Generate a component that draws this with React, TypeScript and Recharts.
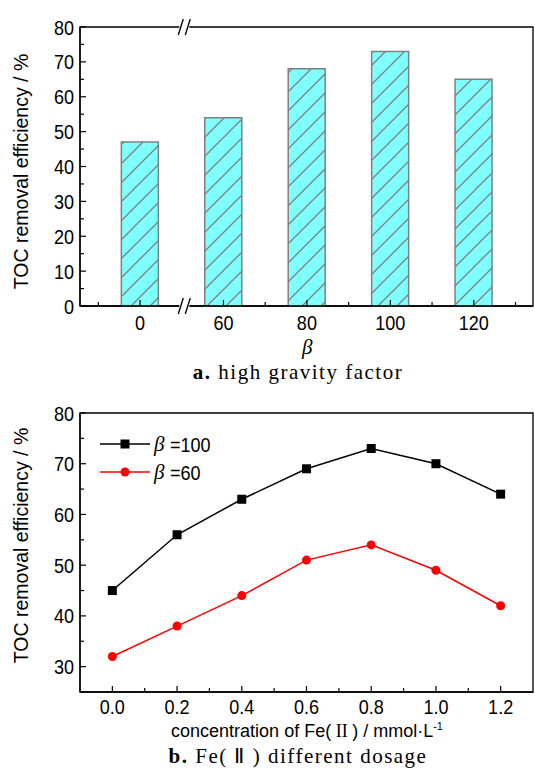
import React from "react";
import {
  BarChart,
  Bar,
  LineChart,
  Line,
  XAxis,
  YAxis,
  ReferenceArea,
  ReferenceDot,
  Legend,
} from "recharts";

// panel a: high gravity factor
const gravityLabels = ["0", "60", "80", "100", "120"];
const gravityRemoval = [47, 54, 68, 73, 65];

// panel b: Fe(II) dosage
const doseLevels = [0, 0.2, 0.4, 0.6, 0.8, 1.0, 1.2];
const removalBeta100 = [45, 56, 63, 69, 73, 70, 64];
const removalBeta60 = [32, 38, 44, 51, 54, 49, 42];

const barYTicks = [0, 5, 10, 15, 20, 25, 30, 35, 40, 45, 50, 55, 60, 65, 70, 75, 80];
const barXTicks = [-0.5, 0, 1, 1.5, 2, 2.5, 3, 3.5, 4, 4.5];
const lineYTicks = [25, 30, 35, 40, 45, 50, 55, 60, 65, 70, 75, 80];
const lineXTicks = [0, 0.1, 0.2, 0.3, 0.4, 0.5, 0.6, 0.7, 0.8, 0.9, 1.0, 1.1, 1.2];

const barData = gravityLabels.map((label, i) => ({ idx: i, label, value: gravityRemoval[i] }));
const lineData = doseLevels.map((d, i) => ({ dose: d, b100: removalBeta100[i], b60: removalBeta60[i] }));

const sansFont = "'Liberation Sans', Arial, sans-serif";
const serifFont = "'Liberation Serif', 'Times New Roman', serif";
const squeeze = 0.86;

const NarrowText = ({ x, y, anchor, size = 21, children }: any) => (
  <text
    transform={`translate(${x},${y}) scale(${squeeze},1)`}
    textAnchor={anchor}
    fontSize={size}
    fontFamily={sansFont}
    fill="#000"
  >
    {children}
  </text>
);

const BarXTick = (props: any) => {
  const { x, y, payload } = props;
  const v = payload.value;
  const major = Number.isInteger(v);
  return (
    <g>
      <line x1={x} x2={x} y1={y} y2={y - (major ? 6 : 4)} stroke="#000" strokeWidth={1.2} />
      {major && <NarrowText x={x} y={y + 24} anchor="middle">{gravityLabels[v]}</NarrowText>}
    </g>
  );
};

const LineXTick = (props: any) => {
  const { x, y, payload } = props;
  const v = payload.value;
  const major = Math.round(v * 10) % 2 === 0;
  return (
    <g>
      <line x1={x} x2={x} y1={y} y2={y - (major ? 6 : 4)} stroke="#000" strokeWidth={1.2} />
      {major && <NarrowText x={x} y={y + 22} anchor="middle">{v.toFixed(1)}</NarrowText>}
    </g>
  );
};

const YTick = (props: any) => {
  const { x, y, payload } = props;
  const v = payload.value;
  const major = v % 10 === 0;
  return (
    <g>
      <line x1={x} x2={x + (major ? 6 : 4)} y1={y} y2={y} stroke="#000" strokeWidth={1.2} />
      {major && <NarrowText x={x - 6} y={y + 7.5} anchor="end">{v}</NarrowText>}
    </g>
  );
};

const BreakMark = (props: any) => {
  const { cx, cy } = props;
  if (cx == null || cy == null) return <g />;
  return (
    <g>
      <rect x={cx - 5} y={cy - 3} width={10} height={6} fill="#fff" />
      <line x1={cx - 6} y1={cy + 8} x2={cx - 1} y2={cy - 8} stroke="#000" strokeWidth={1.3} />
      <line x1={cx + 1} y1={cy + 8} x2={cx + 6} y2={cy - 8} stroke="#000" strokeWidth={1.3} />
    </g>
  );
};

const SquareDot = (props: any) => {
  const { cx, cy, index } = props;
  return <rect key={`sq-${index}`} x={cx - 4.5} y={cy - 4.5} width={9} height={9} fill="#000" />;
};

const LegendBox = (props: any) => {
  const { payload } = props;
  return (
    <svg width={160} height={60}>
      {(payload || []).map((entry: any, i: number) => {
        const y = 14 + i * 28;
        const square = entry.dataKey === "b100";
        return (
          <g key={entry.value}>
            <line x1={0} x2={50} y1={y} y2={y} stroke={entry.color} strokeWidth={1.5} />
            {square ? (
              <rect x={20.5} y={y - 4.5} width={9} height={9} fill={entry.color} />
            ) : (
              <circle cx={25} cy={y} r={4.5} fill={entry.color} />
            )}
            <text x={54} y={y + 7} fontSize={21} fontFamily={serifFont} fontStyle="italic" fill="#000">
              β
            </text>
            <NarrowText x={70} y={y + 7.5} anchor="start" size={21}>
              {"=" + entry.value.replace("β=", "")}
            </NarrowText>
          </g>
        );
      })}
    </svg>
  );
};

const YLabel = ({ top }: { top: number }) => (
  <div
    style={{
      position: "absolute",
      left: 0,
      top,
      width: 44,
      height: 280,
      display: "flex",
      alignItems: "center",
      justifyContent: "center",
    }}
  >
    <div style={{ transform: "rotate(-90deg)", whiteSpace: "nowrap", fontFamily: sansFont, fontSize: 19.5 }}>
      TOC removal efficiency / %
    </div>
  </div>
);

const App = () => {
  return (
    <div style={{ position: "absolute", left: 0, top: 0, width: 535, height: 770, background: "#fff" }}>
      {/* panel a */}
      <div style={{ position: "absolute", left: 0, top: 0 }}>
        <BarChart width={535} height={340} data={barData} margin={{ top: 27, right: 2, bottom: 0, left: 0 }}>
          <defs>
            <pattern id="hatch" width={19} height={19} patternUnits="userSpaceOnUse">
              <rect width={19} height={19} fill="#80FFFF" />
              <path d="M0,19 L19,0 M-2,2 L2,-2 M17,21 L21,17" stroke="#808080" strokeWidth={1.3} />
            </pattern>
          </defs>
          <ReferenceArea x1={-0.72} x2={4.71} y1={0} y2={80} fill="none" stroke="#000" strokeWidth={1.3} ifOverflow="visible" />
          <XAxis
            dataKey="idx"
            type="number"
            domain={[-0.72, 4.71]}
            ticks={barXTicks}
            interval={0}
            allowDataOverflow
            height={34}
            tickSize={0}
            tickMargin={0}
            tickLine={false}
            axisLine={{ stroke: "#000", strokeWidth: 1.3 }}
            tick={<BarXTick />}
          />
          <YAxis
            type="number"
            domain={[0, 80]}
            ticks={barYTicks}
            interval={0}
            width={80}
            tickSize={0}
            tickMargin={0}
            tickLine={false}
            axisLine={{ stroke: "#000", strokeWidth: 1.3 }}
            tick={<YTick />}
          />
          <Bar dataKey="value" barSize={37} fill="url(#hatch)" stroke="#808080" strokeWidth={1.5} isAnimationActive={false} />
          <ReferenceDot x={0.53} y={0} r={0} ifOverflow="visible" shape={(p: any) => <BreakMark {...p} />} />
          <ReferenceDot x={0.53} y={80} r={0} ifOverflow="visible" shape={(p: any) => <BreakMark {...p} />} />
        </BarChart>
      </div>
      <YLabel top={31} />
      <div
        style={{
          position: "absolute",
          left: 302,
          top: 337,
          fontFamily: serifFont,
          fontStyle: "italic",
          fontSize: 21,
          lineHeight: "21px",
        }}
      >
        β
      </div>
      <div
        style={{
          position: "absolute",
          left: 0,
          width: 596,
          top: 360,
          textAlign: "center",
          fontFamily: serifFont,
          fontSize: 21,
          letterSpacing: 1.5,
        }}
      >
        <b>a.</b> high gravity factor
      </div>

      {/* panel b */}
      <div style={{ position: "absolute", left: 0, top: 390 }}>
        <LineChart width={535} height={330} data={lineData} margin={{ top: 23, right: 2, bottom: 0, left: 0 }}>
          <ReferenceArea x1={-0.1} x2={1.3} y1={25} y2={80} fill="none" stroke="#000" strokeWidth={1.3} ifOverflow="visible" />
          <XAxis
            dataKey="dose"
            type="number"
            domain={[-0.1, 1.3]}
            ticks={lineXTicks}
            interval={0}
            allowDataOverflow
            height={28}
            tickSize={0}
            tickMargin={0}
            tickLine={false}
            axisLine={{ stroke: "#000", strokeWidth: 1.3 }}
            tick={<LineXTick />}
          />
          <YAxis
            type="number"
            domain={[25, 80]}
            ticks={lineYTicks}
            interval={0}
            allowDataOverflow
            width={80}
            tickSize={0}
            tickMargin={0}
            tickLine={false}
            axisLine={{ stroke: "#000", strokeWidth: 1.3 }}
            tick={<YTick />}
          />
          <Legend
            layout="vertical"
            verticalAlign="middle"
            align="center"
            wrapperStyle={{ left: 100, top: 40, width: 160, height: 60 }}
            content={<LegendBox />}
          />
          <Line
            dataKey="b100"
            name="β=100"
            stroke="#000"
            strokeWidth={1.5}
            dot={(p: any) => <SquareDot {...p} />}
            isAnimationActive={false}
          />
          <Line
            dataKey="b60"
            name="β=60"
            stroke="#FF0000"
            strokeWidth={1.5}
            dot={{ r: 4.5, fill: "#FF0000", stroke: "#FF0000", strokeWidth: 0 }}
            isAnimationActive={false}
          />
        </LineChart>
      </div>
      <YLabel top={405} />
      <div
        style={{
          position: "absolute",
          left: 0,
          width: 614,
          top: 720,
          textAlign: "center",
          fontFamily: sansFont,
          fontSize: 18,
          whiteSpace: "nowrap",
        }}
      >
        concentration of Fe(<span style={{ fontFamily: serifFont }}> II </span>) / mmol·L
        <sup style={{ fontSize: 11 }}>-1</sup>
      </div>
      <div
        style={{
          position: "absolute",
          left: 0,
          width: 596,
          top: 744,
          textAlign: "center",
          fontFamily: serifFont,
          fontSize: 21,
          letterSpacing: 1.5,
          whiteSpace: "nowrap",
        }}
      >
        <b>b.</b> Fe( Ⅱ ) different dosage
      </div>
    </div>
  );
};

export default App;
